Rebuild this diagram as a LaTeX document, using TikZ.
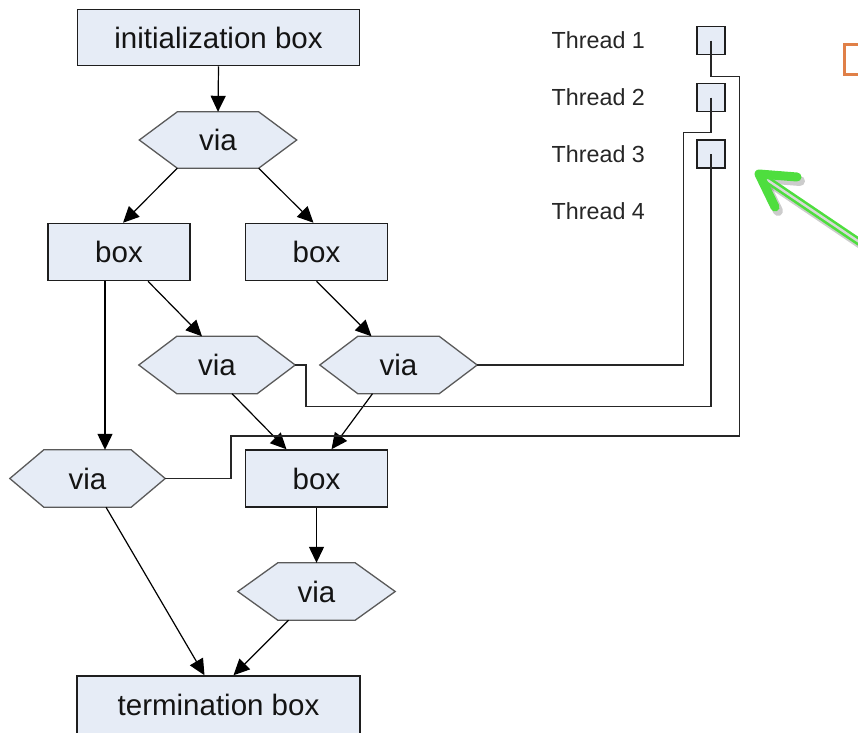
\documentclass[tikz,border=0pt]{standalone}
\usepackage{fontspec}
\setmainfont{Liberation Sans}
\usetikzlibrary{arrows.meta,backgrounds}
\definecolor{cellfill}{RGB}{230,236,246}
\definecolor{hexline}{RGB}{90,90,90}
\definecolor{boxline}{RGB}{30,30,30}
\definecolor{pointer}{RGB}{78,222,62}
\definecolor{tab}{RGB}{224,128,72}
\tikzset{
  cell/.style={draw=boxline, line width=1.5pt, fill=cellfill, inner sep=0pt,
    minimum height=57pt, font=\fontsize{29.5}{34}\selectfont, text=black!92},
  hexcell/.style={inner sep=0pt, minimum width=157pt, minimum height=57pt,
    font=\fontsize{29.5}{34}\selectfont, text=black!92},
  hexborder/.style={draw=hexline, line width=1.3pt, fill=cellfill, line join=miter},
  flow/.style={line width=1.2pt, -{Triangle[length=16pt,width=15pt]}},
  wire/.style={line width=1.5pt, draw=black!85},
  threadbox/.style={draw=boxline, line width=1.5pt, fill=cellfill, minimum size=28pt, inner sep=0pt},
  threadlabel/.style={anchor=base west, inner sep=0pt, font=\fontsize{23.3}{27}\selectfont, text=black!85},
}
% hexagonal outline drawn around a (rectangular) node
\newcommand{\hexaround}[2]{%
  \draw[hexborder] ([xshift=#2]#1.north west) -- ([xshift=-#2]#1.north east) -- (#1.east)
    -- ([xshift=-#2]#1.south east) -- ([xshift=#2]#1.south west) -- (#1.west) -- cycle;}
\begin{document}
\begin{tikzpicture}[x=1pt,y=-1pt]
\useasboundingbox (0,0) rectangle (858,732);
\clip (0,0) rectangle (858,732);

% flow chart
\node[cell, minimum width=282pt, minimum height=56pt] (init) at (218.5,37.5) {initialization box};
\node[hexcell, minimum height=56pt] (v0) at (218,140) {via};
\node[cell, minimum width=142pt] (bL) at (119,252) {box};
\node[cell, minimum width=142pt] (bR) at (316.5,252) {box};
\node[hexcell, minimum width=156pt] (vL) at (217,365) {via};
\node[hexcell] (vR) at (398.5,365) {via};
\node[hexcell, minimum width=155pt] (vB) at (87.5,478.5) {via};
\node[cell, minimum width=142pt] (bC) at (316.5,478.5) {box};
\node[hexcell] (v4) at (316.5,591.5) {via};
\node[cell, minimum width=283pt, minimum height=58pt] (term) at (218.5,705) {termination box};

\begin{scope}[on background layer]
  \hexaround{v0}{38pt}
  \hexaround{vL}{38pt}
  \hexaround{vR}{38pt}
  \hexaround{vB}{34pt}
  \hexaround{v4}{40pt}
\end{scope}

\draw[flow] (init.south) -- (v0.north);
\draw[flow] ([xshift=38pt]v0.south west) -- ([xshift=4pt]bL.north);
\draw[flow] ([xshift=-38pt]v0.south east) -- ([xshift=-3pt]bR.north);
\draw[flow] ([xshift=29pt]bL.south) -- ([xshift=-15pt]vL.north);
\draw[flow] (bR.south) -- ([xshift=-27pt]vR.north);
\draw[flow] ([xshift=-14pt]bL.south) -- ([xshift=17.5pt]vB.north);
\draw[flow] ([xshift=15pt]vL.south) -- ([xshift=-30pt]bC.north);
\draw[flow] ([xshift=-26pt]vR.south) -- ([xshift=15pt]bC.north);
\draw[flow] (bC.south) -- (v4.north);
\draw[flow] ([xshift=18.5pt]vB.south) -- ([xshift=-14pt]term.north);
\draw[flow] ([xshift=-28pt]v4.south) -- ([xshift=15pt]term.north);

% threads
\node[threadlabel] (l1) at (551.5,48) {Thread 1};
\node[threadlabel] (l2) at (551.5,105) {Thread 2};
\node[threadlabel] (l3) at (551.5,162) {Thread 3};
\node[threadlabel] (l4) at (551.5,219) {Thread 4};
\node[threadbox] (t1) at (711,40.5) {};
\node[threadbox] (t2) at (711,97.5) {};
\node[threadbox] (t3) at (711,154) {};

\draw[wire] (t1.center) |- (739.3,76.7) |- (231,436) |- (vB.east);
\draw[wire] (t2.center) |- (683.3,132.7) |- (vR.east);
\draw[wire] (t3.center) |- (306,406.7) |- (vL.east);

% green pointer with a soft shadow
\begin{scope}[shift={(3,4)}, draw=black, opacity=0.2, line cap=round, line join=round]
  \draw[line width=10pt] (797,177) -- (759,174) -- (775,207);
  \draw[line width=8pt] (766,179) -- (880,256);
\end{scope}
\draw[pointer, line width=2.6pt, double=black!15, double distance=2.4pt] (766,179) -- (880,256);
\draw[pointer, line width=9pt, line cap=round, line join=round] (797,177) -- (759,174) -- (775,207);

% orange tab at the edge
\draw[tab, line width=3pt] (844.5,44) rectangle (875,74);
\end{tikzpicture}
\end{document}
